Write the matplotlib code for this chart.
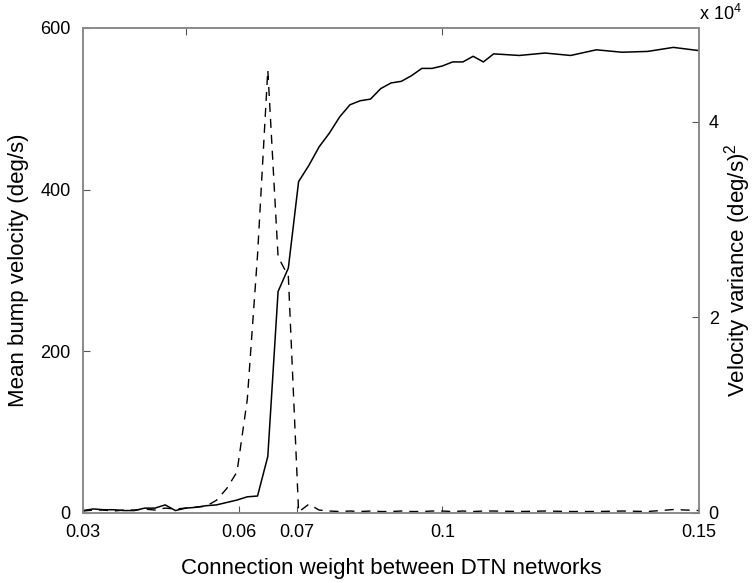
import matplotlib
matplotlib.use("Agg")
import matplotlib.pyplot as plt
from matplotlib.ticker import FuncFormatter

plt.rcParams["font.family"] = ["Liberation Sans", "DejaVu Sans"]
plt.rcParams["mathtext.fontset"] = "custom"
plt.rcParams["mathtext.rm"] = "Liberation Sans"

# connection weight sweep
weight = [0.030, 0.032, 0.034, 0.036, 0.038, 0.040, 0.042, 0.044, 0.046, 0.048,
          0.050, 0.052, 0.054, 0.056, 0.058, 0.060, 0.062, 0.064, 0.066, 0.068,
          0.070, 0.072, 0.074, 0.076, 0.078, 0.080, 0.082, 0.084, 0.086, 0.088,
          0.090, 0.092, 0.094, 0.096, 0.098, 0.100, 0.102, 0.104, 0.106, 0.108,
          0.110, 0.115, 0.120, 0.125, 0.130, 0.135, 0.140, 0.145, 0.150]

# mean bump velocity (deg/s), solid line, left axis
mean_vel = [3, 5, 4, 4, 3, 3, 6, 6, 10, 3,
            6, 7, 9, 10, 13, 16, 20, 21, 70, 274,
            303, 410, 430, 453, 470, 490, 505, 510, 512, 525,
            532, 534, 541, 550, 550, 553, 558, 558, 565, 558,
            568, 566, 569, 566, 573, 570, 571, 576, 572]

# velocity variance (deg/s)^2, dashed line, right axis
vel_var = [200, 300, 300, 200, 300, 300, 400, 300, 500, 400,
           500, 600, 700, 1300, 2500, 4200, 11600, 26400, 45300, 26200,
           24200, 100, 900, 300, 200, 150, 200, 150, 200, 150,
           150, 200, 150, 150, 200, 200, 150, 200, 150, 200,
           200, 150, 200, 150, 150, 200, 150, 350, 250]

xtick_pos = [0.03, 0.0604, 0.0717, 0.1, 0.15]
xtick_lab = ["0.03", "0.06", "0.07", "0.1", "0.15"]
left_ticks = [0, 200, 400, 600]
right_ticks = [0, 20000, 40000]

fig = plt.figure(figsize=(7.52, 5.83), dpi=100)
ax = fig.add_axes([0.1104, 0.1201, 0.8191, 0.8319])
ax2 = ax.twinx()

ax.plot(weight, mean_vel, color="black", lw=1.1)
ax2.plot(weight, vel_var, color="black", lw=1.0, dashes=(6.5, 5))

ax.set_xlim(0.03, 0.15)
ax.set_ylim(0, 600)
ax2.set_ylim(0, 49600)

ax.set_xticks(xtick_pos)
ax.set_xticklabels(xtick_lab)
ax.set_yticks(left_ticks)
ax2.set_yticks(right_ticks)
ax2.yaxis.set_major_formatter(FuncFormatter(lambda v, p: f"{v / 1e4:g}"))

top = ax.secondary_xaxis("top")
top.set_xticks([0.05, 0.1])
top.tick_params(direction="in", length=5, labeltop=False, color="#555555")
top.spines["top"].set_visible(False)

ax.tick_params(axis="x", direction="in", length=5, labelsize=13, pad=8, color="#555555")
ax.tick_params(axis="y", direction="in", length=5, labelsize=13, pad=9, color="#555555")
ax2.tick_params(axis="y", direction="in", length=5, labelsize=13, pad=7, color="#555555")

for a in (ax, ax2):
    for s in a.spines.values():
        s.set_color("#8a8a8a")
        s.set_linewidth(1.2)

ax.set_xlabel("Connection weight between DTN networks", fontsize=16, labelpad=12)
ax.set_ylabel("Mean bump velocity (deg/s)", fontsize=16, labelpad=8)
ax2.set_ylabel("Velocity variance (deg/s)$^2$", fontsize=16, labelpad=2)

ax.text(1.0, 1.008, "x 10$^4$", transform=ax.transAxes, fontsize=13,
        ha="left", va="bottom")

fig.savefig("out.png", dpi=100)
